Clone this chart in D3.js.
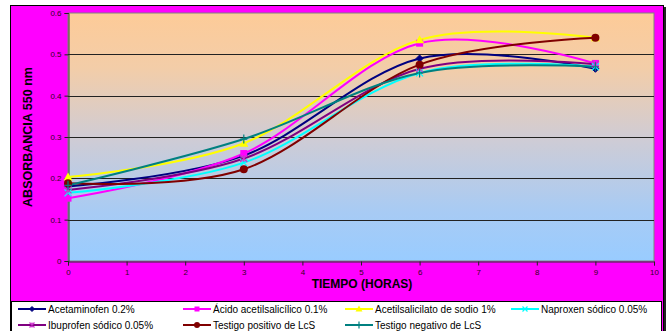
<!DOCTYPE html>
<html>
<head>
<meta charset="utf-8">
<script src="https://cdn.jsdelivr.net/npm/d3@7"></script>
<style>
  html, body { margin: 0; padding: 0; background: #ffffff; }
  svg { display: block; font-family: "Liberation Sans", Arial, sans-serif; }
</style>
</head>
<body>
<svg id="chart" width="669" height="331"></svg>
<script>
// Absorbance readings at 550 nm over time (hours)
const hours = [0, 3, 6, 9];
const seriesNames = [
  "Acetaminofen 0.2%",
  "Ácido acetilsalicílico 0.1%",
  "Acetilsalicilato de sodio 1%",
  "Naproxen sódico 0.05%",
  "Ibuprofen sódico 0.05%",
  "Testigo positivo de LcS",
  "Testigo negativo de LcS"
];
const acetaminofen   = [0.180, 0.255, 0.490, 0.465];
const acidoAcetil    = [0.152, 0.260, 0.527, 0.478];
const acetilsalicilato = [0.203, 0.285, 0.535, 0.540];
const naproxen       = [0.165, 0.238, 0.455, 0.470];
const ibuprofen      = [0.172, 0.248, 0.465, 0.476];
const testigoPos     = [0.188, 0.222, 0.475, 0.540];
const testigoNeg     = [0.183, 0.295, 0.455, 0.470];
const xTicks = [0, 1, 2, 3, 4, 5, 6, 7, 8, 9, 10];
const yTicks = [0, 0.1, 0.2, 0.3, 0.4, 0.5, 0.6];

const seriesValues = [acetaminofen, acidoAcetil, acetilsalicilato, naproxen, ibuprofen, testigoPos, testigoNeg];
const colors = ["#000080", "#FF00FF", "#FFFF00", "#00FFFF", "#800080", "#800000", "#008080"];
const markerColors = ["#000080", "#FF00FF", "#FFFF00", "#00FFFF", "#CC33CC", "#800000", "#008080"];
const markers = ["diamond", "square", "triangle", "x", "asterisk", "circle", "plus"];

const svg = d3.select("#chart");

// chart frame
svg.append("rect").attr("x", 12).attr("y", 7).attr("width", 654).attr("height", 330).attr("fill", "#222");
svg.append("rect").attr("x", 10.5).attr("y", 5.5).attr("width", 653).attr("height", 330)
  .attr("fill", "#FF00FF").attr("stroke", "#000").attr("stroke-width", 1);

const plot = { left: 68, top: 13, right: 654, bottom: 261 };
const x = d3.scaleLinear().domain([0, 10]).range([plot.left, plot.right]);
const y = d3.scaleLinear().domain([0, 0.6]).range([plot.bottom, plot.top]);

// plot background gradient
const defs = svg.append("defs");
const grad = defs.append("linearGradient").attr("id", "bg").attr("x1", 0).attr("y1", 0).attr("x2", 0).attr("y2", 1);
grad.append("stop").attr("offset", "0%").attr("stop-color", "#FDCB98");
grad.append("stop").attr("offset", "22%").attr("stop-color", "#F3CDA8");
grad.append("stop").attr("offset", "50%").attr("stop-color", "#D0CCD4");
grad.append("stop").attr("offset", "80%").attr("stop-color", "#A8CBF4");
grad.append("stop").attr("offset", "100%").attr("stop-color", "#99CCFF");

svg.append("rect")
  .attr("x", plot.left).attr("y", plot.top)
  .attr("width", plot.right - plot.left).attr("height", plot.bottom - plot.top)
  .attr("fill", "url(#bg)").attr("stroke", "#808080").attr("stroke-width", 1);

// horizontal gridlines
svg.append("g").selectAll("line").data(yTicks.filter(d => d > 0 && d < 0.6)).join("line")
  .attr("x1", plot.left).attr("x2", plot.right)
  .attr("y1", d => Math.round(y(d)) + 0.5).attr("y2", d => Math.round(y(d)) + 0.5)
  .attr("stroke", "#222").attr("stroke-width", 1);

// axes
const yAxis = d3.axisLeft(y).tickValues(yTicks).tickSize(4).tickPadding(3).tickFormat(d => d3.format("")(+d.toFixed(1)));
const gy = svg.append("g").attr("transform", `translate(${plot.left + 0.5},0)`).call(yAxis);
const xAxis = d3.axisBottom(x).tickValues(xTicks).tickSize(4).tickPadding(4).tickFormat(d3.format("d"));
const gx = svg.append("g").attr("transform", `translate(0,${plot.bottom + 0.5})`).call(xAxis);
[gx, gy].forEach(g => {
  g.select(".domain").attr("stroke", "#333");
  g.selectAll(".tick line").attr("stroke", "#222");
  g.selectAll("text").attr("fill", "#33001A").attr("font-size", 8).attr("font-family", "Liberation Sans, Arial, sans-serif");
});

// axis titles
svg.append("text").attr("x", 362).attr("y", 288).attr("text-anchor", "middle")
  .attr("font-size", 12).attr("font-weight", "bold").attr("fill", "#000").text("TIEMPO (HORAS)");
svg.append("text").attr("transform", `translate(32,${(plot.top + plot.bottom) / 2}) rotate(-90)`)
  .attr("text-anchor", "middle").attr("font-size", 12.5).attr("font-weight", "bold").attr("fill", "#000")
  .text("ABSORBANCIA 550 nm");

// marker drawing
function drawMarker(g, type, color, s) {
  const h = s / 2;
  switch (type) {
    case "diamond":
      g.append("path").attr("d", `M0,${-h}L${h},0L0,${h}L${-h},0Z`).attr("fill", color).attr("stroke", color);
      break;
    case "square":
      g.append("rect").attr("x", -h).attr("y", -h).attr("width", s).attr("height", s).attr("fill", color);
      break;
    case "triangle":
      g.append("path").attr("d", `M0,${-h - 1}L${h + 1},${h}L${-h - 1},${h}Z`).attr("fill", color);
      break;
    case "x":
      g.append("path").attr("d", `M${-h},${-h}L${h},${h}M${-h},${h}L${h},${-h}`).attr("stroke", color).attr("stroke-width", 1.2);
      break;
    case "asterisk":
      g.append("path").attr("d", `M${-h},${-h}L${h},${h}M${-h},${h}L${h},${-h}M0,${-h}L0,${h}`).attr("stroke", color).attr("stroke-width", 1.2);
      break;
    case "circle":
      g.append("circle").attr("r", h + 0.5).attr("fill", color);
      break;
    case "plus":
      g.append("path").attr("d", `M${-h},0L${h},0M0,${-h - 1}L0,${h + 1}`).attr("stroke", color).attr("stroke-width", 1.2);
      break;
  }
}

// series lines (smoothed)
const line = d3.line().x(d => x(d[0])).y(d => y(d[1])).curve(d3.curveCatmullRom.alpha(0));
const series = seriesNames.map((name, i) => ({ name, color: colors[i], mcolor: markerColors[i], marker: markers[i],
  points: hours.map((h, j) => [h, seriesValues[i][j]]) }));

const gs = svg.append("g");
series.forEach(s => {
  gs.append("path").attr("d", line(s.points)).attr("fill", "none").attr("stroke", s.color).attr("stroke-width", 2);
});
series.forEach(s => {
  s.points.forEach(p => {
    const g = gs.append("g").attr("transform", `translate(${x(p[0])},${y(p[1])})`);
    drawMarker(g, s.marker, s.mcolor, 7);
  });
});

// legend
svg.append("rect").attr("x", 11.5).attr("y", 301.5).attr("width", 650).attr("height", 40)
  .attr("fill", "#fff").attr("stroke", "#000").attr("stroke-width", 1);
const colX = [18, 183, 345, 511];
const rowY = [309, 325];
series.forEach((s, i) => {
  const cx = colX[i % 4], cy = rowY[Math.floor(i / 4)];
  const lg = svg.append("g").attr("transform", `translate(${cx},${cy})`);
  lg.append("line").attr("x1", 0).attr("x2", 28).attr("y1", 0).attr("y2", 0).attr("stroke", s.color).attr("stroke-width", 2);
  const m = lg.append("g").attr("transform", "translate(14,0)");
  drawMarker(m, s.marker, s.mcolor, 5);
  lg.append("text").attr("x", 30).attr("y", 3.5).attr("font-size", 10).attr("fill", "#000").text(s.name);
});
</script>
</body>
</html>
